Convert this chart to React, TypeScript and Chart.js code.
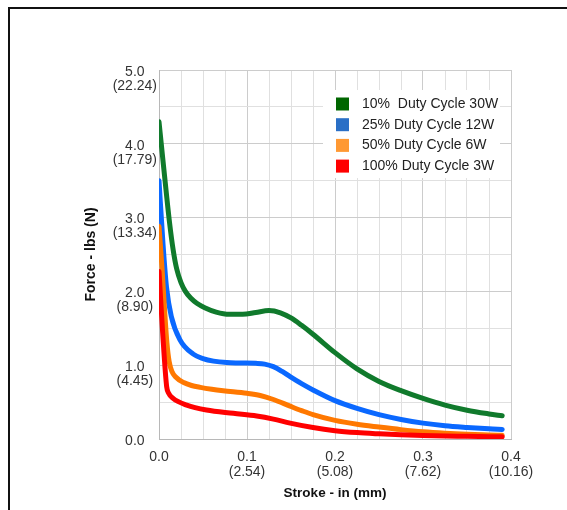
import React, { useEffect, useRef } from "react";
import { Chart, registerables } from "chart.js";

Chart.register(...registerables);

// ---- data (stroke in inches, force in lbs) ----
const greenX = [0, 0.004, 0.008, 0.012, 0.016, 0.02, 0.025, 0.03, 0.036, 0.043, 0.052, 0.065, 0.08, 0.095, 0.11, 0.125, 0.138, 0.15, 0.162, 0.175, 0.2, 0.225, 0.25, 0.275, 0.3, 0.325, 0.35, 0.375, 0.39];
const greenY = [4.3, 3.83, 3.37, 2.93, 2.57, 2.31, 2.12, 2.0, 1.91, 1.84, 1.78, 1.72, 1.69, 1.69, 1.715, 1.74, 1.71, 1.64, 1.54, 1.42, 1.17, 0.95, 0.78, 0.655, 0.55, 0.46, 0.39, 0.34, 0.315];

const blueX = [0, 0.0045, 0.0085, 0.014, 0.024, 0.039, 0.05, 0.062, 0.077, 0.092, 0.11, 0.12, 0.13, 0.14, 0.149, 0.162, 0.175, 0.2, 0.225, 0.25, 0.275, 0.3, 0.325, 0.35, 0.375, 0.39];
const blueY = [3.5, 2.65, 2.06, 1.66, 1.34, 1.15, 1.09, 1.055, 1.035, 1.03, 1.025, 1.015, 0.98, 0.915, 0.845, 0.75, 0.665, 0.52, 0.415, 0.33, 0.265, 0.215, 0.18, 0.157, 0.138, 0.13];

const orangeX = [0, 0.0035, 0.0065, 0.009, 0.0115, 0.0145, 0.019, 0.028, 0.037, 0.047, 0.06, 0.073, 0.1, 0.115, 0.13, 0.149, 0.162, 0.175, 0.2, 0.225, 0.25, 0.275, 0.3, 0.325, 0.35, 0.375, 0.39];
const orangeY = [2.88, 2.3, 1.72, 1.3, 1.05, 0.92, 0.84, 0.765, 0.725, 0.7, 0.675, 0.655, 0.62, 0.59, 0.535, 0.445, 0.385, 0.33, 0.252, 0.2, 0.162, 0.127, 0.098, 0.078, 0.064, 0.055, 0.05];

const redX = [0, 0.0042, 0.0087, 0.011, 0.016, 0.0315, 0.054, 0.0845, 0.111, 0.13, 0.149, 0.175, 0.2, 0.225, 0.25, 0.275, 0.3, 0.35, 0.39];
const redY = [2.27, 1.43, 0.71, 0.62, 0.55, 0.46, 0.393, 0.348, 0.312, 0.27, 0.215, 0.155, 0.113, 0.087, 0.07, 0.056, 0.046, 0.036, 0.03];

const seriesNames = ["10%  Duty Cycle 30W", "25% Duty Cycle 12W", "50% Duty Cycle 6W", "100% Duty Cycle 3W"];
const lineColors = ["#107a2c", "#0a68ff", "#ff7800", "#ff0000"];
const legendColors = ["#006600", "#2a6fc6", "#ff9933", "#ff0000"];

// ---- tick labels ----
const xTickIn = ["0.0", "0.1", "0.2", "0.3", "0.4"];
const xTickMm = ["", "(2.54)", "(5.08)", "(7.62)", "(10.16)"];
const yTickLbs = ["0.0", "1.0", "2.0", "3.0", "4.0", "5.0"];
const yTickN = ["", "(4.45)", "(8.90)", "(13.34)", "(17.79)", "(22.24)"];

const xTitle = "Stroke - in (mm)";
const yTitle = "Force - lbs (N)";

const FONT = '"Liberation Sans", Arial, sans-serif';

const toPts = (xs: number[], ys: number[]) => xs.map((x, i) => ({ x, y: ys[i] }));

const boxLegend = {
  id: "boxLegend",
  afterDatasetsDraw(chart: any) {
    const { ctx, chartArea } = chart;
    const left = chartArea.left + 164;
    const top = chartArea.top + 20;
    ctx.save();
    ctx.fillStyle = "#ffffff";
    ctx.fillRect(left, top, 177, 88);
    ctx.font = `14px ${FONT}`;
    ctx.textBaseline = "middle";
    ctx.textAlign = "left";
    seriesNames.forEach((name, i) => {
      const cy = top + 14 + i * 20.7;
      ctx.fillStyle = legendColors[i];
      ctx.fillRect(left + 13, cy - 6.5, 13, 13);
      ctx.fillStyle = "#222222";
      ctx.fillText(name, left + 39, cy);
    });
    ctx.restore();
  },
};

const isMult = (v: number, step: number) => Math.abs(v / step - Math.round(v / step)) < 1e-6;

export default function App() {
  const ref = useRef<HTMLCanvasElement>(null);

  useEffect(() => {
    if (!ref.current) return;
    const allX = [greenX, blueX, orangeX, redX];
    const allY = [greenY, blueY, orangeY, redY];
    // draw order: red on top
    const order = [3, 2, 1, 0];
    const chart = new Chart(ref.current, {
      type: "line",
      data: {
        datasets: order.map((k) => ({
          label: seriesNames[k],
          data: toPts(allX[k], allY[k]),
          borderColor: lineColors[k],
          backgroundColor: lineColors[k],
          borderWidth: 5,
          pointRadius: 0,
          cubicInterpolationMode: "monotone" as const,
          borderCapStyle: "round" as const,
          borderJoinStyle: "round" as const,
          fill: false,
        })),
      },
      options: {
        responsive: false,
        animation: false,
        events: [],
        layout: { padding: { top: 70, right: 56, left: 0, bottom: 0 } },
        plugins: { legend: { display: false }, tooltip: { enabled: false } },
        scales: {
          x: {
            type: "linear",
            min: 0,
            max: 0.4,
            afterFit: (s: any) => {
              s.height = 71;
            },
            ticks: {
              stepSize: 0.025,
              autoSkip: false,
              maxRotation: 0,
              padding: 10,
              color: "#333333",
              font: { family: FONT, size: 14, lineHeight: 1.1 },
              callback: (v: any) => {
                const n = Number(v);
                if (!isMult(n, 0.1)) return "";
                const i = Math.round(n / 0.1);
                return xTickMm[i] ? [xTickIn[i], xTickMm[i]] : xTickIn[i];
              },
            },
            grid: {
              drawTicks: false,
              color: (c: any) => (c.tick && isMult(Number(c.tick.value), 0.1) ? "#cccccc" : "#e0e0e0"),
            },
            border: { color: "#b8b8b8" },
            title: {
              display: true,
              text: xTitle,
              color: "#111111",
              font: { family: FONT, size: 13.5, weight: "bold", lineHeight: 1.2 },
              padding: { top: 0, bottom: 9 },
            },
          },
          y: {
            type: "linear",
            min: 0,
            max: 5,
            afterFit: (s: any) => {
              s.width = 159;
            },
            ticks: {
              stepSize: 0.5,
              autoSkip: false,
              padding: 2,
              crossAlign: "center",
              labelOffset: 9,
              color: "#333333",
              font: { family: FONT, size: 14, lineHeight: 1.0 },
              callback: (v: any) => {
                const n = Number(v);
                if (!isMult(n, 1)) return "";
                const i = Math.round(n);
                return [yTickLbs[i], yTickN[i]];
              },
            },
            grid: {
              drawTicks: false,
              color: (c: any) => (c.tick && isMult(Number(c.tick.value), 1) ? "#cccccc" : "#e0e0e0"),
            },
            border: { color: "#b8b8b8" },
            title: {
              display: true,
              text: yTitle,
              color: "#111111",
              font: { family: FONT, size: 14, weight: "bold", lineHeight: 1.2 },
              padding: { top: 83, bottom: 0 },
            },
          },
        },
      },
      plugins: [boxLegend],
    });
    return () => chart.destroy();
  }, []);

  return (
    <div style={{ position: "fixed", left: 0, top: 0, width: 567, height: 510, background: "#fff" }}>
      <canvas ref={ref} width={567} height={510} style={{ position: "absolute", left: 0, top: 0, width: 567, height: 510 }} />
      <div
        style={{
          position: "absolute",
          left: 8,
          top: 7,
          right: 0,
          bottom: 0,
          borderLeft: "2px solid #111",
          borderTop: "2px solid #111",
          pointerEvents: "none",
        }}
      />
    </div>
  );
}
